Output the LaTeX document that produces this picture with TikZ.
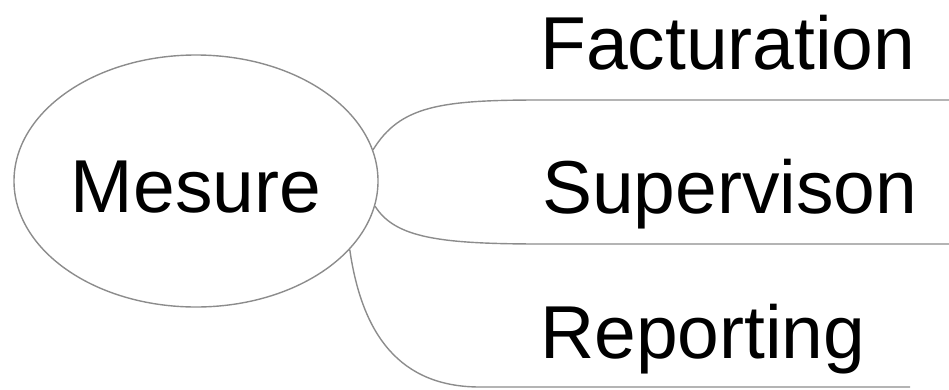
\documentclass[tikz,border=0pt]{standalone}
\usepackage{fontspec}
\setmainfont{Liberation Sans}
\usetikzlibrary{shapes.geometric}
\definecolor{linegray}{RGB}{140,140,140}
\begin{document}
\begin{tikzpicture}[x=1pt,y=-1pt,
  conn/.style={draw=linegray,line width=1.4pt},
  bigtext/.style={font=\fontsize{75}{80}\selectfont,inner sep=0pt},
  root/.style={ellipse,draw=linegray,line width=1.4pt,minimum width=364pt,minimum height=252pt,inner sep=0pt,
    font=\fontsize{75}{80}\selectfont,text height=62pt,text depth=0pt}]
\useasboundingbox (0,0) rectangle (949,389);
\node[root] (m) at (196,181) {Mesure};
\node[bigtext,anchor=base west] (f) at (540,69) {Facturation};
\node[bigtext,anchor=base west] (s) at (542,213) {Supervison};
\node[bigtext,anchor=base west] (r) at (540,358) {Reporting};
\coordinate (fe) at (949,100);
\coordinate (se) at (949,244);
\coordinate (re) at (910,387);
\draw[conn] (m.10.6) .. controls (400,106) and (440,100) .. (f.west |- fe) -- (fe);
\draw[conn] (m.-8.4) .. controls (395,238) and (440,244) .. (s.west |- se) -- (se);
\draw[conn] (m.-24.7) .. controls (362,335) and (400,387) .. (480,387) -- (re);
\end{tikzpicture}
\end{document}
